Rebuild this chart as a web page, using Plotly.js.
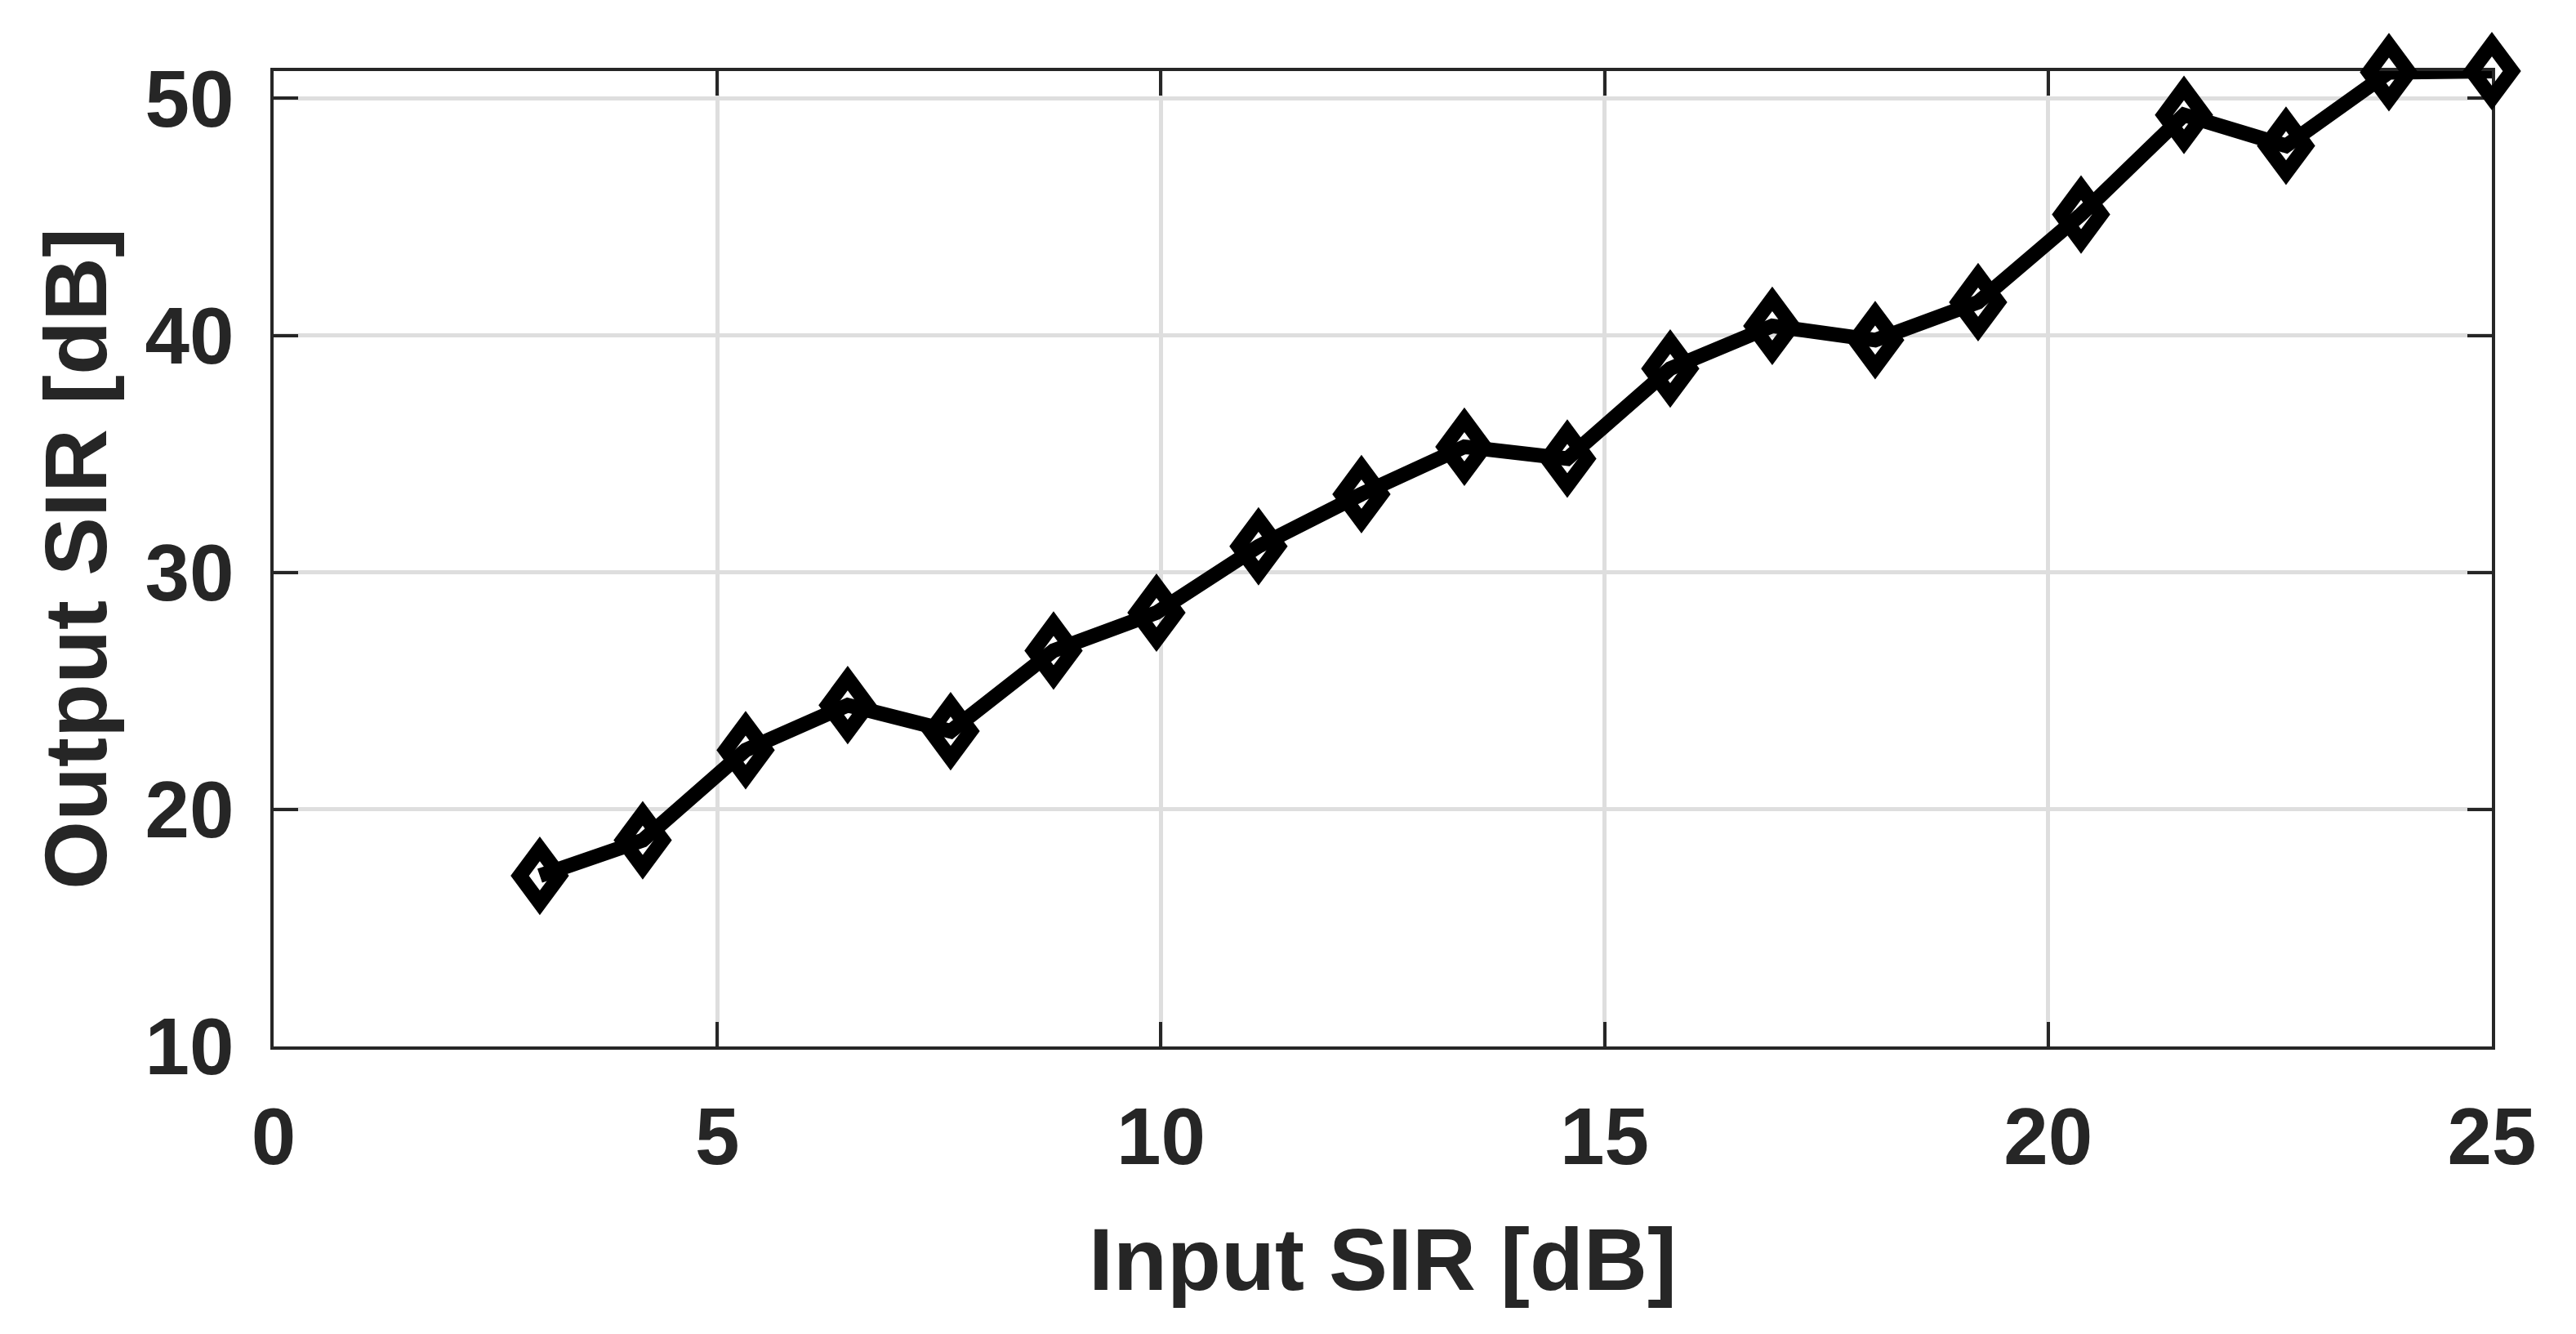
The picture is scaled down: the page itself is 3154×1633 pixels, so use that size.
<!DOCTYPE html>
<html>
<head>
<meta charset="utf-8">
<script src="https://cdn.plot.ly/plotly-3.0.1.min.js"></script>
<style>
  html, body { margin: 0; padding: 0; background: #ffffff; }
  #chart { width: 3154px; height: 1633px; }
</style>
</head>
<body>
<div id="chart"></div>
<script>
// ---- data ----
const inputSIR = [3.0, 4.16, 5.32, 6.47, 7.63, 8.79, 9.95, 11.1, 12.26, 13.42,
                  14.58, 15.74, 16.89, 18.05, 19.21, 20.37, 21.53, 22.68, 23.84, 25.0];
const outputSIR = [17.2, 18.7, 22.5, 24.4, 23.3, 26.7, 28.3, 31.1, 33.3, 35.3,
                   34.8, 38.6, 40.4, 39.8, 41.4, 45.1, 49.3, 48.0, 51.1, 51.15];
const xTicks = [0, 5, 10, 15, 20, 25];
const yTicks = [10, 20, 30, 40, 50];
const xLabel = 'Input SIR [dB]';
const yLabel = 'Output SIR [dB]';

const textColor = '#262626';
const fontFamily = '"Liberation Sans", Arial, Helvetica, sans-serif';

const lineTrace = {
  x: inputSIR,
  y: outputSIR,
  type: 'scatter',
  mode: 'lines',
  line: { color: '#000000', width: 18 },
  cliponaxis: false,
  hoverinfo: 'skip',
  showlegend: false
};

// open tall-diamond markers anchored at each data point (sizes in pixels)
const markerShapes = inputSIR.map((x, i) => ({
  type: 'path',
  xref: 'x', yref: 'y',
  xsizemode: 'pixel', ysizemode: 'pixel',
  xanchor: x, yanchor: outputSIR[i],
  path: 'M0,33 L24.5,0 L0,-33 L-24.5,0 Z',
  line: { color: '#000000', width: 18 },
  fillcolor: 'rgba(0,0,0,0)',
  layer: 'above'
}));

const axisCommon = {
  showline: true,
  linecolor: textColor,
  linewidth: 4,
  mirror: 'ticks',
  ticks: 'inside',
  ticklen: 30,
  tickwidth: 4,
  tickcolor: textColor,
  showgrid: true,
  gridcolor: '#dedede',
  gridwidth: 5,
  zeroline: false,
  layer: 'below traces',
  tickfont: { family: fontFamily, size: 98, color: textColor, weight: 'bold' },
  fixedrange: true
};

const layout = {
  width: 3154,
  height: 1633,
  paper_bgcolor: '#ffffff',
  plot_bgcolor: '#ffffff',
  margin: { l: 335, r: 103, t: 87, b: 352, autoexpand: false },
  showlegend: false,
  font: { family: fontFamily, color: textColor },
  xaxis: Object.assign({}, axisCommon, {
    range: [0, 25],
    tickmode: 'array',
    tickvals: xTicks,
    ticktext: xTicks.map(String),
    ticklabelstandoff: 22,
    title: { text: xLabel, font: { family: fontFamily, size: 108, color: textColor, weight: 'bold' }, standoff: 60 }
  }),
  yaxis: Object.assign({}, axisCommon, {
    range: [10, 51.15],
    tickmode: 'array',
    tickvals: yTicks,
    ticktext: yTicks.map(String),
    ticklabelstandoff: 25,
    title: { text: yLabel, font: { family: fontFamily, size: 108, color: textColor, weight: 'bold' }, standoff: 12 }
  }),
  shapes: markerShapes
};

Plotly.newPlot('chart', [lineTrace], layout, { staticPlot: true, displayModeBar: false }).then(() => {
  // let the markers overflow the plot frame as in the reference
  document.querySelectorAll('.shapelayer [clip-path], .shapelayer path').forEach(el => {
    el.removeAttribute('clip-path');
    el.style.clipPath = 'none';
  });
  document.querySelectorAll('.shapelayer').forEach(el => {
    el.removeAttribute('clip-path');
  });
});
</script>
</body>
</html>
